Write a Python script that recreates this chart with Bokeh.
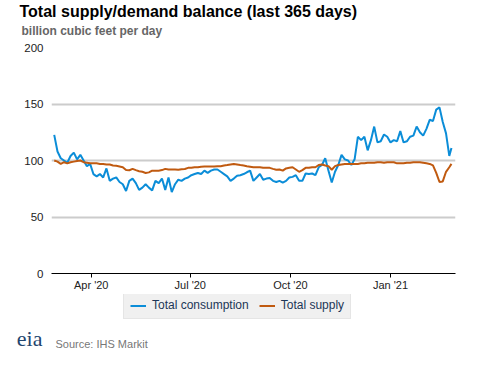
import pandas as pd
from bokeh.plotting import figure
from bokeh.layouts import column
from bokeh.models import (ColumnDataSource, Range1d, FixedTicker, DatetimeTickFormatter,
                          Legend, LegendItem, Title, Label)
from bokeh.embed import file_html
from bokeh.resources import INLINE

# ---- data (~every 3 days) ----
sample_dates = list(pd.date_range("2020-02-27", periods=122, freq="3D")) + [pd.Timestamp("2021-02-26")]

consumption = [122.7,108,102,100,98,104,107,101,105,100,
               95,97,88,86,88,85,93,82,84,85,
               81,79,73,82,84,80,74,76,79,76,
               73.5,82,80,84,74,85,72,79,83,82,
               84,85,87,88,89,88,91,89,91,92,
               92,90,88,86,82,84,86.5,87,88,89.6,
               91,82,85,88,83,84,84.5,82,81,82,
               80.5,82,85,85.5,87,82,82,88.5,88,88.5,
               87,94,96,102,91,80.5,90,96,105,101,
               100,96,101,121,118,121,109,118,130,116,
               117,123,121,116,118,117,126,116,117,121,
               122,130,125,122,128,136,135,145,147,134,
               124,104,111]

supply = [100,99,97,98.5,97.5,98.5,99,99.5,100,98.5,
          98,97.5,97.5,97.5,97,97,96.5,96.5,95.6,95.3,
          94.7,94,91.5,91.4,92.6,91.5,90.5,90,89,89.5,
          91,91,91,91.5,92.6,92,92,92,91.8,92.3,
          92.5,93.5,93.5,94,94,94.5,94.7,94.7,94.7,94.7,
          95,95,95.6,96,96.5,97,96.5,96,95.6,95,
          94.5,94,94,94,93.5,93.5,93.5,92.6,91.8,92,
          91,93,93.5,94,92,90,91.5,93.5,93.5,94,
          94,96,96.5,95.6,95,91.8,95,96,96.5,97,
          97,97,97,97,97.5,97.5,98,98,98,98.5,
          98.5,98,98.5,98.5,98.5,97.5,97.5,97.5,98,98,
          98.5,98.5,98.5,98,97.5,97,95.6,89,81,81.5,
          90,94,97]

tick_dates = ["2020-04-01", "2020-07-01", "2020-10-01", "2021-01-01"]
y_ticks = [0, 50, 100, 150, 200]
series_names = ["Total consumption", "Total supply"]

title_text = "Total supply/demand balance (last 365 days)"
subtitle_text = "billion cubic feet per day"
source_text = "Source: IHS Markit"
logo_text = "eia"

BLUE = "#0b8dd8"
ORANGE = "#c05a10"
FONT = "Liberation Sans"
FOOT_H = 57

src = ColumnDataSource(dict(date=sample_dates, cons=consumption, sup=supply))

# ---------------- main chart ----------------
p = figure(frame_width=404, frame_height=226,
           min_border_left=51, min_border_right=6, min_border_top=47, min_border_bottom=21,
           x_axis_type="datetime",
           x_range=Range1d(pd.Timestamp("2020-02-24 12:00"), pd.Timestamp("2021-03-01 17:00")),
           y_range=Range1d(0, 200),
           output_backend="svg", toolbar_location=None)
p.outline_line_color = None
p.background_fill_color = "white"
p.border_fill_color = "white"

p.line("date", "cons", source=src, line_color=BLUE, line_width=2)
p.line("date", "sup", source=src, line_color=ORANGE, line_width=2)

p.xaxis.ticker = FixedTicker(ticks=[pd.Timestamp(d).value // 10**6 for d in tick_dates])
p.xaxis.formatter = DatetimeTickFormatter(months="%b '%y", days="%b '%y")
p.xaxis.axis_line_color = "black"
p.xaxis.axis_line_width = 1
p.xaxis.major_tick_line_color = "black"
p.xaxis.major_tick_out = 4
p.xaxis.major_tick_in = 0
p.xaxis.minor_tick_line_color = None
p.xaxis.major_label_standoff = 1
p.xaxis.major_label_text_font = FONT
p.xaxis.major_label_text_font_size = "11px"
p.xaxis.major_label_text_color = "#222222"

p.yaxis.ticker = FixedTicker(ticks=y_ticks)
p.yaxis.axis_line_color = None
p.yaxis.major_tick_line_color = None
p.yaxis.minor_tick_line_color = None
p.yaxis.major_tick_out = 0
p.yaxis.major_tick_in = 0
p.yaxis.major_label_standoff = 8
p.yaxis.major_label_text_font = FONT
p.yaxis.major_label_text_font_size = "11.5px"
p.yaxis.major_label_text_color = "#222222"

p.xgrid.grid_line_color = None
p.ygrid.grid_line_color = "#cccccc"
p.ygrid.grid_line_width = 2

# titles above (first added = closest to the frame)
p.add_layout(Title(text=subtitle_text, align="left", offset=-30, standoff=20,
                   text_font=FONT, text_font_size="12px", text_font_style="bold",
                   text_color="#666666"), "above")
p.add_layout(Title(text=title_text, align="left", offset=-32, standoff=-16,
                   text_font=FONT, text_font_size="16px", text_font_style="bold",
                   text_color="#000000"), "above")

# ---------------- footer: legend + source ----------------
foot = figure(frame_width=404, frame_height=FOOT_H,
              min_border_left=51, min_border_right=6, min_border_top=0, min_border_bottom=0,
              x_range=Range1d(0, 404), y_range=Range1d(FOOT_H, 0),
              x_axis_type=None, output_backend="svg", toolbar_location=None)
foot.outline_line_color = None
foot.background_fill_color = "white"
foot.border_fill_color = "white"
foot.xgrid.grid_line_color = None
foot.ygrid.grid_line_color = None

# legend swatches: the same series, whose dates fall far outside this panel's range
s1 = foot.line("date", "cons", source=src, line_color=BLUE, line_width=2)
s2 = foot.line("date", "sup", source=src, line_color=ORANGE, line_width=2)
legend = Legend(items=[LegendItem(label=series_names[0], renderers=[s1]),
                       LegendItem(label=series_names[1], renderers=[s2])],
                location=(72, FOOT_H - 25), orientation="horizontal",
                background_fill_color="#f0f0f0", background_fill_alpha=1,
                border_line_color="#dadada", border_line_width=1,
                padding=6, margin=0, spacing=10,
                glyph_width=16, glyph_height=13, label_standoff=6,
                label_text_font=FONT, label_text_font_size="12px",
                label_text_color="#1c3657", label_height=13)
foot.add_layout(legend)

foot.add_layout(Label(x=4, y=49, text=source_text, text_font=FONT, text_font_size="11px",
                      text_color="#777777", text_baseline="alphabetic"))

# eia logo text on the footer's left side (as the label of a bare axis)
foot.yaxis.ticker = FixedTicker(ticks=[44])
foot.yaxis.major_label_overrides = {44: logo_text}
foot.yaxis.axis_line_color = None
foot.yaxis.major_tick_line_color = None
foot.yaxis.minor_tick_line_color = None
foot.yaxis.major_tick_out = 0
foot.yaxis.major_tick_in = 0
foot.yaxis.major_label_standoff = 9
foot.yaxis.major_label_text_font = "Liberation Serif"
foot.yaxis.major_label_text_font_size = "22px"
foot.yaxis.major_label_text_color = "#23456e"

layout = column(p, foot, spacing=0)
open("out.html", "w").write(file_html(layout, INLINE))
